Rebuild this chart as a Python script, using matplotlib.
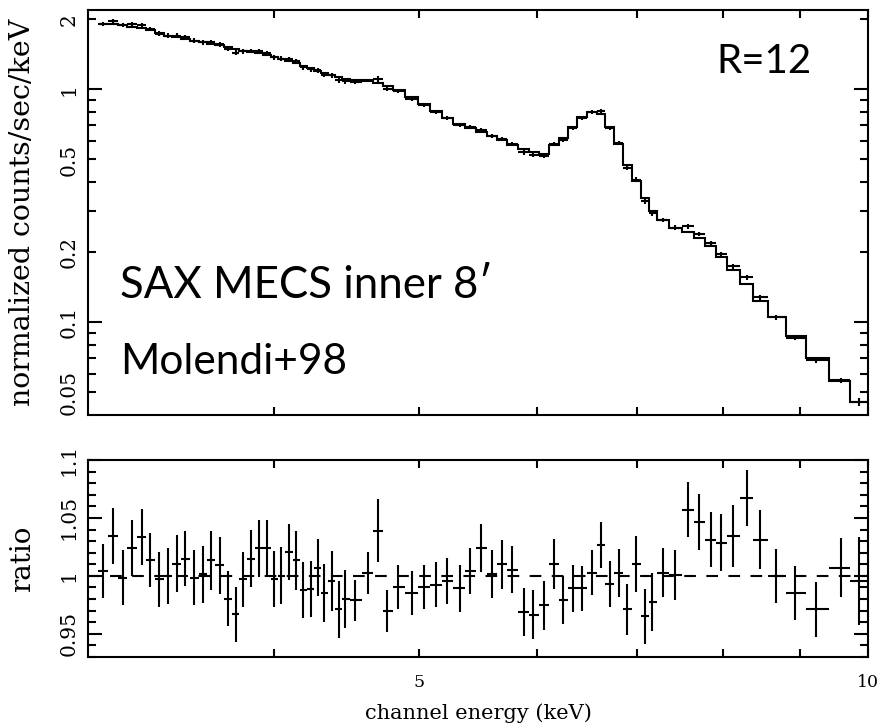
import numpy as np
import matplotlib.pyplot as plt
from matplotlib.ticker import FixedLocator, NullFormatter, FuncFormatter

# bin centres (keV)
energy = [3.072, 3.119, 3.165, 3.209, 3.259, 3.303, 3.349, 3.395, 3.440, 3.486,
          3.534, 3.584, 3.627, 3.677, 3.721, 3.769, 3.812, 3.857, 3.907, 3.954,
          3.999, 4.044, 4.092, 4.139, 4.184, 4.231, 4.279, 4.319, 4.369, 4.420,
          4.461, 4.531, 4.625, 4.697, 4.763, 4.841, 4.950, 5.039, 5.131, 5.224,
          5.324, 5.413, 5.506, 5.594, 5.681, 5.775, 5.879, 5.965, 6.064, 6.158,
          6.248, 6.345, 6.427, 6.534, 6.625, 6.710, 6.807, 6.896, 6.992, 7.086,
          7.167, 7.285, 7.429, 7.571, 7.709, 7.853, 7.975, 8.121, 8.298, 8.461,
          8.677, 8.940, 9.230, 9.593, 9.856]

# folded model, counts/s/keV
model = [1.90, 1.90, 1.89, 1.86, 1.83, 1.79, 1.74, 1.70, 1.68, 1.65,
         1.62, 1.59, 1.57, 1.545, 1.52, 1.485, 1.46, 1.44, 1.425, 1.40,
         1.38, 1.35, 1.32, 1.30, 1.26, 1.23, 1.20, 1.175, 1.155, 1.13,
         1.105, 1.095, 1.09, 1.065, 1.035, 0.99, 0.925, 0.865, 0.805, 0.755,
         0.712, 0.685, 0.655, 0.630, 0.605, 0.578, 0.553, 0.540, 0.530, 0.575,
         0.62, 0.69, 0.76, 0.80, 0.785, 0.69, 0.585, 0.475, 0.405, 0.342,
         0.300, 0.274, 0.255, 0.244, 0.229, 0.212, 0.191, 0.168, 0.146, 0.124,
         0.105, 0.087, 0.0706, 0.056, 0.0457]

# data / model
ratio = [1.0043, 1.0345, 0.9986, 1.0238, 1.0333, 1.0133, 0.9971, 1.0000, 1.0104, 1.0148,
         0.9986, 1.0012, 1.0133, 1.0090, 0.9803, 0.9667, 0.9971, 1.0148, 1.0238, 1.0238,
         0.9971, 1.0000, 1.0206, 1.0133, 0.9878, 0.9890, 1.0072, 0.9852, 0.9954, 0.9710,
         0.9800, 0.9788, 1.0026, 1.0388, 0.9696, 0.9904, 0.9852, 0.9904, 0.9925, 0.9954,
         0.9893, 1.0043, 1.0241, 1.0014, 1.0101, 1.0055, 0.9687, 0.9664, 0.9745, 1.0101,
         0.9788, 0.9893, 0.9893, 1.0029, 1.0267, 0.9928, 1.0029, 0.9710, 1.0101, 0.9652,
         0.9774, 1.0029, 1.0006, 1.0571, 1.0464, 1.0313, 1.0284, 1.0345, 1.0672, 1.0313,
         1.0000, 0.9852, 0.9710, 1.0072, 0.9954]

ratio_err = [0.0235, 0.0242, 0.0236, 0.0242, 0.0242, 0.0233, 0.0236, 0.0243, 0.0246, 0.0239,
             0.0235, 0.0243, 0.0254, 0.0243, 0.0239, 0.0239, 0.0236, 0.0246, 0.0245, 0.0245,
             0.0243, 0.0246, 0.0239, 0.0254, 0.0245, 0.0242, 0.0243, 0.0251, 0.0257, 0.0246,
             0.0254, 0.0177, 0.0183, 0.0272, 0.0178, 0.0187, 0.0188, 0.0187, 0.0194, 0.0199,
             0.0201, 0.0200, 0.0206, 0.0207, 0.0210, 0.0207, 0.0210, 0.0210, 0.0210, 0.0217,
             0.0207, 0.0201, 0.0194, 0.0193, 0.0200, 0.0199, 0.0207, 0.0217, 0.0239, 0.0239,
             0.0251, 0.0214, 0.0214, 0.0239, 0.0239, 0.0238, 0.0246, 0.0270, 0.0243, 0.0254,
             0.0236, 0.0230, 0.0239, 0.0254, 0.0381]

e = np.array(energy)
m = np.array(model)
r = np.array(ratio)
rerr = np.array(ratio_err)

# bin edges halfway (in log) between neighbouring centres
edges = np.empty(len(e) + 1)
edges[1:-1] = np.sqrt(e[:-1] * e[1:])
edges[0] = e[0] ** 2 / edges[1]
edges[-1] = e[-1] ** 2 / edges[-2]
xerr = [e - edges[:-1], edges[1:] - e]

data = m * r
data_err = m * rerr

serif = 'DejaVu Serif'
lw = 1.5

fig = plt.figure(figsize=(8.85, 7.25), dpi=100)
ax1 = fig.add_axes([0.0994, 0.4276, 0.8814, 0.5586])
ax2 = fig.add_axes([0.0994, 0.0938, 0.8814, 0.2717])

# spectrum + model
ax1.errorbar(e, data, xerr=xerr, yerr=data_err, fmt='none', ecolor='k', elinewidth=lw)
ax1.stairs(m, edges, baseline=None, color='k', lw=lw)
ax1.set_xscale('log')
ax1.set_yscale('log')
ax1.set_xlim(3, 10)
ax1.set_ylim(0.04, 2.19)

# ratio
ax2.axhline(1.0, color='k', lw=lw, ls=(0, (5.6, 5.0)))
ax2.errorbar(e, r, xerr=xerr, yerr=rerr, fmt='none', ecolor='k', elinewidth=lw)
ax2.set_xscale('log')
ax2.set_xlim(3, 10)
ax2.set_ylim(0.93, 1.1)

xt = [4, 5, 6, 7, 8, 9, 10]
for ax in (ax1, ax2):
    ax.xaxis.set_major_locator(FixedLocator(xt))
    ax.xaxis.set_minor_locator(FixedLocator([]))
    ax.tick_params(which='both', direction='in', top=True, right=True, width=lw, color='k')
    ax.tick_params(axis='x', which='major', length=6)
    for s in ax.spines.values():
        s.set_linewidth(lw)

ax1.xaxis.set_major_formatter(NullFormatter())
ax2.xaxis.set_major_formatter(FuncFormatter(lambda v, p: '%d' % v if v in (5, 10) else ''))

# y ticks, long at decades, short elsewhere
ax1.yaxis.set_major_locator(FixedLocator([0.1, 1]))
ax1.yaxis.set_minor_locator(FixedLocator([0.05, 0.06, 0.07, 0.08, 0.09, 0.2, 0.3, 0.4, 0.5,
                                          0.6, 0.7, 0.8, 0.9, 2]))
ax1.yaxis.set_major_formatter(FuncFormatter(lambda v, p: '%g' % v))
ax1.yaxis.set_minor_formatter(FuncFormatter(lambda v, p: '%g' % v if v in (0.05, 0.2, 0.5, 2) else ''))

ax2.yaxis.set_major_locator(FixedLocator([0.95, 1.0, 1.05, 1.1]))
ax2.yaxis.set_minor_locator(FixedLocator(np.arange(0.93, 1.1, 0.01)))
ax2.yaxis.set_major_formatter(FuncFormatter(lambda v, p: '%g' % v))

for ax in (ax1, ax2):
    ax.tick_params(axis='y', which='major', length=10)
    ax.tick_params(axis='y', which='minor', length=6)
    ax.tick_params(axis='x', which='both', labelsize=12.5, pad=12)
    ax.tick_params(axis='y', which='both', labelsize=14.5, pad=7)
    for lab in ax.get_yticklabels(which='both'):
        lab.set_rotation(90)
        lab.set_va('center')
        lab.set_family(serif)
    for lab in ax.get_xticklabels():
        lab.set_family(serif)

ax1.set_ylabel('normalized counts/sec/keV', family=serif, fontsize=20.5)
ax2.set_ylabel('ratio', family=serif, fontsize=20)
ax2.set_xlabel('channel energy (keV)', family=serif, fontsize=15, labelpad=9)
ax1.yaxis.set_label_coords(-0.066, 0.5)
ax2.yaxis.set_label_coords(-0.066, 0.5)

ax1.text(0.041, 0.32, "SAX MECS inner 8\u2032", transform=ax1.transAxes,
         family='Lato', fontsize=31.5, va='center', ha='left')
ax1.text(0.041, 0.13, 'Molendi+98', transform=ax1.transAxes,
         family='Lato', fontsize=30.5, va='center', ha='left')
ax1.text(0.806, 0.872, 'R=12', transform=ax1.transAxes,
         family='Lato', fontsize=29, va='center', ha='left')

fig.savefig('out.png', dpi=100)
